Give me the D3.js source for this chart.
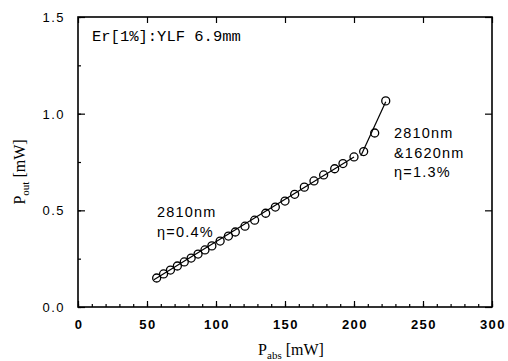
<!DOCTYPE html>
<html>
<head>
<meta charset="utf-8">
<script src="https://cdn.jsdelivr.net/npm/d3@7"></script>
<style>
  body { margin: 0; background: #fff; }
  svg { display: block; }
</style>
</head>
<body>
<div id="chart"></div>
<script>
// absorbed pump power [mW] and output power [mW]
const pAbs = [57, 62, 67, 72, 77, 82, 87, 92, 97, 103, 109, 114, 121, 128, 136, 143, 150, 157, 164, 171, 178, 186, 192, 200, 207, 215, 223];
const pOut = [0.150, 0.171, 0.191, 0.212, 0.233, 0.253, 0.274, 0.295, 0.316, 0.341, 0.367, 0.388, 0.418, 0.449, 0.485, 0.517, 0.548, 0.583, 0.620, 0.652, 0.683, 0.715, 0.742, 0.776, 0.804, 0.9, 1.066];

// slope fits drawn in the figure
const fit2810 = [[55, 0.141], [200, 0.776]];
const fitBoth = [[205, 0.782], [223, 1.062]];

const xTicks = [0, 50, 100, 150, 200, 250, 300];
const yTicks = [0.0, 0.5, 1.0, 1.5];

const width = 508, height = 361;
const margin = { top: 17, right: 16, bottom: 54, left: 78 };
const w = width - margin.left - margin.right;
const h = height - margin.top - margin.bottom;

const svg = d3.select("#chart").append("svg")
  .attr("width", width)
  .attr("height", height);

const g = svg.append("g")
  .attr("transform", `translate(${margin.left},${margin.top})`);

const x = d3.scaleLinear().domain([0, 300]).range([0, w]);
const y = d3.scaleLinear().domain([0, 1.5]).range([h, 0]);

// ticks, all pointing inward
const minorX = d3.range(0, 301, 10);
const minorY = d3.range(0, 1.51, 0.25);

function tickAxis(axis, pos) {
  const a = g.append("g").attr("transform", pos).call(axis);
  a.select(".domain").remove();
  a.selectAll("line").attr("stroke", "#000").attr("stroke-width", 1.2);
  a.selectAll("text").remove();
  return a;
}

tickAxis(d3.axisBottom(x).tickValues(minorX).tickSizeInner(-3).tickSizeOuter(0), `translate(0,${h})`);
tickAxis(d3.axisBottom(x).tickValues(xTicks).tickSizeInner(-6).tickSizeOuter(0), `translate(0,${h})`);
tickAxis(d3.axisTop(x).tickValues(xTicks).tickSizeInner(-6).tickSizeOuter(0), "translate(0,0)");
tickAxis(d3.axisLeft(y).tickValues(minorY).tickSizeInner(-3).tickSizeOuter(0), "translate(0,0)");
tickAxis(d3.axisLeft(y).tickValues(yTicks).tickSizeInner(-7).tickSizeOuter(0), "translate(0,0)");
tickAxis(d3.axisRight(y).tickValues(yTicks).tickSizeInner(-7).tickSizeOuter(0), `translate(${w},0)`);

// frame
g.append("rect")
  .attr("width", w).attr("height", h)
  .attr("fill", "none").attr("stroke", "#000").attr("stroke-width", 1.6);

// tick labels
g.selectAll(".xl").data(xTicks).enter().append("text")
  .attr("x", d => x(d) + 1)
  .attr("y", h + 22)
  .attr("text-anchor", "middle")
  .attr("font-family", "Liberation Sans, Arial, sans-serif")
  .attr("font-weight", "bold")
  .attr("font-size", 13)
  .attr("letter-spacing", 1.5)
  .text(d => d);

g.selectAll(".yl").data(yTicks).enter().append("text")
  .attr("x", -13)
  .attr("y", d => y(d) + 5)
  .attr("text-anchor", "end")
  .attr("font-family", "Liberation Sans, Arial, sans-serif")
  .attr("font-size", 13)
  .attr("letter-spacing", 1.5)
  .text(d => d.toFixed(1));

// axis titles
const xt = svg.append("text")
  .attr("x", margin.left + x(150) + 6)
  .attr("y", height - 6)
  .attr("text-anchor", "middle")
  .attr("font-family", "Liberation Serif, Times New Roman, serif")
  .attr("font-size", 16);
xt.append("tspan").text("P");
xt.append("tspan").attr("font-size", 11).attr("dy", 4).text("abs");
xt.append("tspan").attr("dy", -4).text(" [mW]");

const yt = svg.append("text")
  .attr("transform", `translate(25,${margin.top + y(0.75) + 10}) rotate(-90)`)
  .attr("text-anchor", "middle")
  .attr("font-family", "Liberation Serif, Times New Roman, serif")
  .attr("font-size", 16);
yt.append("tspan").text("P");
yt.append("tspan").attr("font-size", 11).attr("dy", 4).text("out");
yt.append("tspan").attr("dy", -4).text(" [mW]");

// fit lines
const line = d3.line().x(d => x(d[0])).y(d => y(d[1]));
[fit2810, fitBoth].forEach(f => {
  g.append("path")
    .attr("d", line(f))
    .attr("fill", "none")
    .attr("stroke", "#000")
    .attr("stroke-width", 1.2);
});

// data points
g.selectAll(".pt").data(pAbs).enter().append("circle")
  .attr("cx", d => x(d))
  .attr("cy", (d, i) => y(pOut[i]))
  .attr("r", 4)
  .attr("fill", "none")
  .attr("stroke", "#000")
  .attr("stroke-width", 1.3);

// annotations
g.append("text")
  .attr("x", 14).attr("y", 24)
  .attr("font-family", "Liberation Mono, Courier New, monospace")
  .attr("font-size", 15.5)
  .text("Er[1%]:YLF 6.9mm");

function label(lines, px, py) {
  const t = g.append("text")
    .attr("font-family", "Liberation Sans, Arial, sans-serif")
    .attr("font-size", 14.5)
    .attr("letter-spacing", 1.2);
  lines.forEach((s, i) => {
    t.append("tspan").attr("x", px).attr("y", py + i * 19.5).text(s);
  });
}
label(["2810nm", "\u03b7=0.4%"], 79, 200);
label(["2810nm", "&1620nm", "\u03b7=1.3%"], 316, 121);
</script>
</body>
</html>
